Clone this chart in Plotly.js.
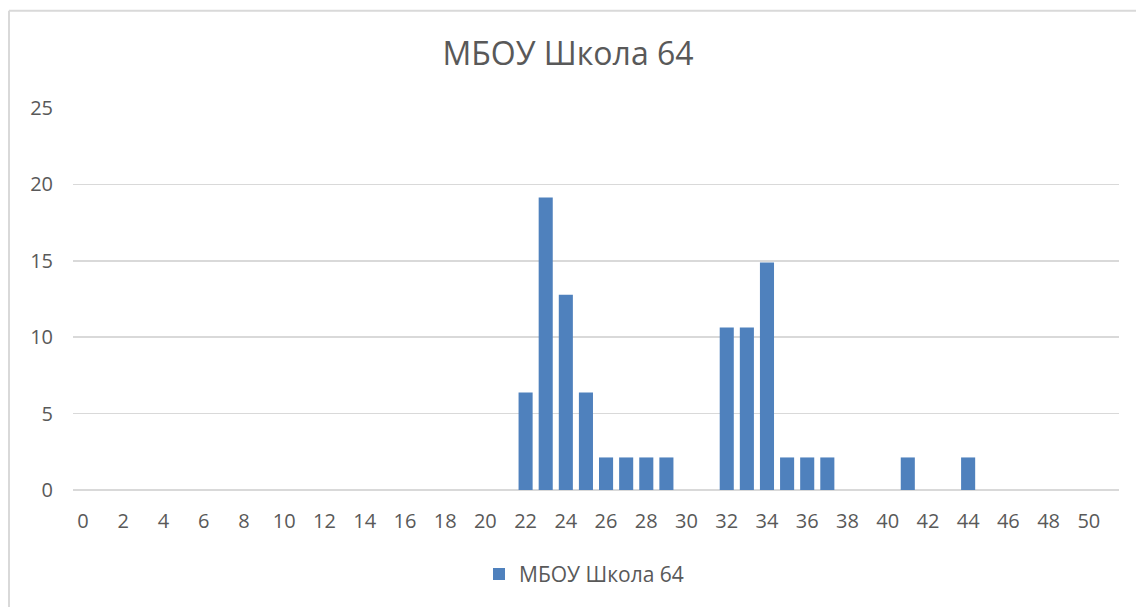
<!DOCTYPE html>
<html>
<head>
<meta charset="utf-8">
<script src="https://cdn.plot.ly/plotly-3.0.1.min.js"></script>
<style>html,body{margin:0;padding:0;background:#fff;}#chart{width:1136px;height:607px;}</style>
</head>
<body>
<div id="chart"></div>
<script>
const scores = [22, 23, 24, 25, 26, 27, 28, 29, 32, 33, 34, 35, 36, 37, 41, 44];
const percents = [6.38, 19.15, 12.77, 6.38, 2.13, 2.13, 2.13, 2.13, 10.64, 10.64, 14.89, 2.13, 2.13, 2.13, 2.13, 2.13];
const xTicks = [0, 2, 4, 6, 8, 10, 12, 14, 16, 18, 20, 22, 24, 26, 28, 30, 32, 34, 36, 38, 40, 42, 44, 46, 48, 50];
const yTicks = [0, 5, 10, 15, 20, 25];
const seriesName = "МБОУ Школа 64";
const titleText = "МБОУ Школа 64";

const W = 1136, H = 607;
const m = {l: 73, r: 17, t: 108, b: 114};
const pw = W - m.l - m.r, ph = H - m.t - m.b;
const px = x => (x - m.l) / pw;
const py = y => (H - m.b - y) / ph;

const font = "Open Sans, Noto Sans, sans-serif";
const txt = "#595959";
const grid = "#d9d9d9";

Plotly.newPlot("chart", [{
  type: "bar",
  x: scores,
  y: percents,
  name: seriesName,
  marker: {color: "#4f81bd", line: {width: 0}},
  showlegend: true,
  hoverinfo: "x+y"
}], {
  width: W, height: H,
  margin: m,
  paper_bgcolor: "#fff", plot_bgcolor: "#fff",
  bargap: 0.3,
  title: {text: titleText, font: {family: font, size: 32, color: txt}, x: 0.5, xanchor: "center", xref: "container", y: 1 - 54 / H, yanchor: "middle", yref: "container"},
  xaxis: {
    range: [-0.5, 51.5], tickmode: "array", tickvals: xTicks, ticktext: xTicks.map(String),
    showgrid: false, zeroline: false, showline: false, ticks: "",
    tickfont: {family: font, size: 20, color: txt}, ticklabelstandoff: 17, fixedrange: true
  },
  yaxis: {
    range: [0, 25], tickmode: "array", tickvals: yTicks, ticktext: yTicks.map(String),
    showgrid: true, gridcolor: grid, gridwidth: 1.5, zeroline: true, zerolinecolor: grid, zerolinewidth: 1.5,
    showline: false, ticks: "", tickfont: {family: font, size: 20, color: txt}, ticklabelstandoff: 19, fixedrange: true
  },
  legend: {orientation: "h", x: px(584), xanchor: "center", y: py(578), yanchor: "middle", font: {family: font, size: 21, color: txt}, itemwidth: 30},
  shapes: [
    {type: "line", xref: "paper", yref: "paper", x0: px(9), x1: px(9), y0: py(H + 10), y1: py(10), line: {color: grid, width: 2}},
    {type: "line", xref: "paper", yref: "paper", x0: px(9), x1: px(W + 10), y0: py(10), y1: py(10), line: {color: grid, width: 2}}
  ]
}, {displayModeBar: false, staticPlot: true});
</script>
</body>
</html>
